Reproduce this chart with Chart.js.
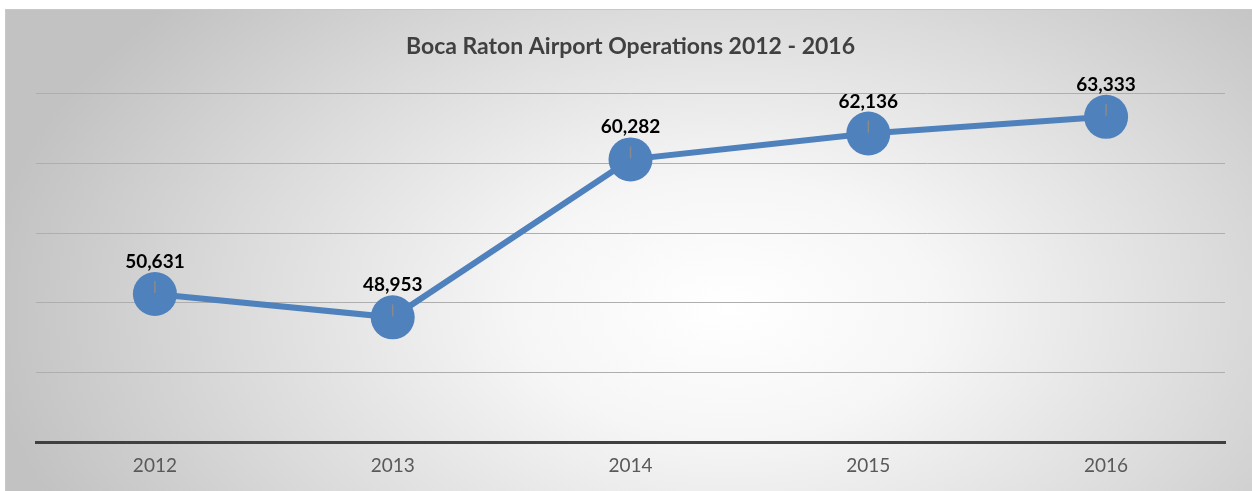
<!DOCTYPE html>
<html>
<head>
<meta charset="utf-8">
<script src="https://cdn.jsdelivr.net/npm/chart.js@4"></script>
<style>
  html, body { margin: 0; padding: 0; background: #fff; }
  #wrap {
    position: absolute; left: 5px; top: 9px; width: 1247px; height: 482px;
    border-top: 1px solid #c8c8c8; border-left: 1px solid #c8c8c8;
    box-sizing: border-box;
    background: radial-gradient(ellipse 60% 95% at 58% 62%, #ffffff 0%, #f6f6f6 28%, #dcdcdc 65%, #c2c2c2 100%);
  }
</style>
</head>
<body>
<div id="wrap"><canvas id="opsChart"></canvas></div>
<script>
// Boca Raton airport operations
const years = ['2012', '2013', '2014', '2015', '2016'];
const operations = [50631, 48953, 60282, 62136, 63333];
const yMin = 40000;
const yMax = 65000;
const yStep = 5000;

// value labels above each point + the little grey tick inside the markers
const pointLabels = {
    id: 'pointLabels',
    afterDatasetsDraw(chart) {
        const ctx = chart.ctx;
        const meta = chart.getDatasetMeta(0);
        ctx.save();
        meta.data.forEach(function (pt, i) {
            ctx.strokeStyle = '#8a8a8a';
            ctx.lineWidth = 1.5;
            ctx.beginPath();
            ctx.moveTo(pt.x, pt.y - 13);
            ctx.lineTo(pt.x, pt.y - 1);
            ctx.stroke();

            ctx.fillStyle = '#000';
            ctx.font = 'bold 19px Lato';
            ctx.textAlign = 'center';
            ctx.textBaseline = 'alphabetic';
            ctx.fillText(operations[i].toLocaleString('en-US'), pt.x, pt.y - 26);
        });
        ctx.restore();
    }
};

new Chart(document.getElementById('opsChart'), {
    type: 'line',
    data: {
        labels: years,
        datasets: [{
            data: operations,
            borderColor: '#4f81bd',
            backgroundColor: '#4f81bd',
            borderWidth: 6,
            pointRadius: 22,
            pointHoverRadius: 22,
            pointBorderWidth: 0,
            tension: 0
        }]
    },
    options: {
        responsive: true,
        maintainAspectRatio: false,
        animation: false,
        layout: {
            padding: { left: 30, right: 27, top: 0, bottom: 10 }
        },
        plugins: {
            legend: { display: false },
            tooltip: { enabled: false },
            title: {
                display: true,
                text: 'Boca Raton Airport Operations 2012 - 2016',
                color: '#404040',
                font: { family: 'Lato', size: 23, weight: 'bold' },
                padding: { top: 23, bottom: 33 }
            }
        },
        scales: {
            y: {
                min: yMin,
                max: yMax,
                ticks: { display: false, stepSize: yStep },
                border: { display: false },
                grid: { color: '#aeaeae', lineWidth: 1, drawTicks: false }
            },
            x: {
                offset: true,
                grid: { display: false },
                border: { color: '#404040', width: 3 },
                ticks: {
                    color: '#595959',
                    padding: 4,
                    font: { family: 'Lato', size: 19 }
                }
            }
        }
    },
    plugins: [pointLabels]
});
</script>
</body>
</html>
